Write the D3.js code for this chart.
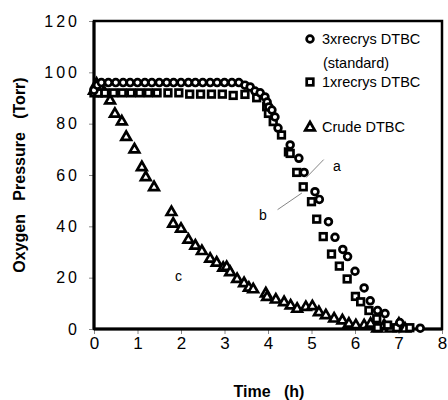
<!DOCTYPE html>
<html><head><meta charset="utf-8">
<script src="https://cdn.jsdelivr.net/npm/d3@7"></script>
<style>body{margin:0;background:#fff}svg{display:block}text{font-family:"Liberation Sans",Arial,sans-serif}</style>
</head><body><svg id="c" width="448" height="400"></svg>
<script>
// 3xrecrys DTBC (standard)
const circT = [0,0.08,0.17,0.33,0.5,0.67,0.83,1.0,1.17,1.33,1.5,1.67,1.83,2.0,2.17,2.33,2.5,2.67,2.83,3.0,3.17,3.33,3.47,3.59,3.70,3.82,3.93,3.98,4.02,4.09,4.16,4.23,4.51,4.71,4.83,5.08,5.18,5.39,5.54,5.72,5.83,6.0,6.21,6.35,6.52,6.69,7.03,7.5];
const circV = [93,95,96,96,96,96,96,96,96,96,96,96,96,96,96,96,96,96,96,96,96,96,95,94.3,92.7,92,90.4,88.4,86.5,85.3,82.6,78.3,71.7,66.5,61,53.5,50.5,41.8,35.7,31,28.2,22.5,16,11,7.2,6,2.5,0.3];
// 1xrecrys DTBC
const sqT = [0,0.1,0.25,0.45,0.65,0.85,1.05,1.25,1.45,1.7,1.95,2.2,2.45,2.7,2.95,3.2,3.47,3.74,3.97,4.01,4.12,4.31,4.47,4.51,4.66,4.81,5.0,5.12,5.27,5.46,5.64,5.82,6.01,6.13,6.32,6.5,6.52,6.75,6.96,7.26];
const sqV = [92,92,92,92,92,92,92,92,92,92,92,91.5,91.5,91.5,91.5,91,91.4,90.1,86.6,84,80.8,75.6,69,68.4,61,55.4,49.6,42.8,36,29.2,24.5,19.5,12.7,10.6,7.2,4,0.5,1.5,0.5,0.5];
// Crude DTBC
const triT = [0,0.06,0.15,0.25,0.37,0.48,0.64,0.74,0.93,1.1,1.19,1.38,1.78,1.82,2.0,2.17,2.33,2.48,2.67,2.82,2.97,3.05,3.13,3.29,3.45,3.56,3.66,3.95,3.98,4.18,4.37,4.52,4.67,4.87,5.02,5.17,5.33,5.52,5.71,5.86,6.02,6.21,6.36,6.51,6.67,6.82,7.01,7.15];
const triV = [93,95.7,94,92,89.2,84,81,75,70.1,63.2,59.3,55.4,45.7,41.2,39.2,34.9,32.6,30.5,27.5,26,24,24.3,22.3,19.6,18,16.2,15.6,14,12.6,11.6,10.6,9.3,8,8.7,9,6.7,5.5,4.2,3.5,2.2,1.6,1.6,2.2,0.3,1.6,0.3,2.2,0.3];
const xTicks = [0,1,2,3,4,5,6,7,8];
const yTicks = [0,20,40,60,80,100,120];
const legendLabels = [["3xrecrys DTBC","(standard)"],["1xrecrys DTBC"],["Crude DTBC"]];
const annotations = [{t:"a"},{t:"b"},{t:"c"}];

const svg = d3.select("#c");
const x = d3.scaleLinear().domain([0,8]).range([94,442]);
const y = d3.scaleLinear().domain([0,120]).range([329,21]);

// ticks
svg.append("g").attr("transform","translate(0,329)")
  .call(d3.axisBottom(x).tickValues(xTicks).tickSize(5).tickPadding(10).tickFormat(d3.format("d")))
  .call(g=>{g.select(".domain").remove();g.selectAll("line").attr("stroke","#888");
    g.selectAll("text").attr("font-size",17).attr("fill","#000").attr("dy","0.3em");});
svg.append("g").attr("transform","translate(94,0)")
  .call(d3.axisLeft(y).tickValues(yTicks).tickSize(5).tickPadding(9).tickFormat(d3.format("d")))
  .call(g=>{g.select(".domain").remove();g.selectAll("line").attr("stroke","#888");
    g.selectAll("text").attr("font-size",16).attr("fill","#000").attr("letter-spacing","3px");});

// frame
svg.append("rect").attr("x",x(0)).attr("y",y(120)).attr("width",x(8)-x(0)).attr("height",y(0)-y(120))
  .attr("fill","none").attr("stroke","#000").attr("stroke-width",2.5);
svg.append("line").attr("x1",x(0)).attr("x2",x(0)).attr("y1",y(120)).attr("y2",y(0)).attr("stroke","#000").attr("stroke-width",3);
svg.append("line").attr("x1",x(0)).attr("x2",x(8)).attr("y1",y(0)).attr("y2",y(0)).attr("stroke","#000").attr("stroke-width",3);

const tri = d3.symbol().type(d3.symbolTriangle).size(40);
const mk = {
  circle:(g,px,py)=>g.append("circle").attr("cx",px).attr("cy",py).attr("r",3.4),
  square:(g,px,py)=>g.append("rect").attr("x",px-3.3).attr("y",py-3.3).attr("width",6.6).attr("height",6.6),
  tri:(g,px,py)=>g.append("path").attr("d",tri()).attr("transform",`translate(${px},${py+0.5})`)
};
const layer = svg.append("g").attr("fill","#fff").attr("stroke","#000").attr("stroke-width",2.7).attr("stroke-linejoin","miter");
triT.forEach((t,i)=>mk.tri(layer,x(t),y(triV[i])));
sqT.forEach((t,i)=>mk.square(layer,x(t),y(sqV[i])));
circT.forEach((t,i)=>mk.circle(layer,x(t),y(circV[i])));

// legend
const lg = svg.append("g");
const lm = lg.append("g").attr("fill","#fff").attr("stroke","#000").attr("stroke-width",2.7);
mk.circle(lm,310,39); mk.square(lm,310,82); mk.tri(lm,310,127);
const lt = lg.append("g").attr("font-size",14.5).attr("fill","#000");
lt.append("text").attr("x",322).attr("y",44).text(legendLabels[0][0]);
lt.append("text").attr("x",323).attr("y",68).text(legendLabels[0][1]);
lt.append("text").attr("x",322).attr("y",87).text(legendLabels[1][0]);
lt.append("text").attr("x",322).attr("y",132).text(legendLabels[2][0]);

// annotations
const an = svg.append("g").attr("font-size",14).attr("fill","#000");
an.append("text").attr("x",333).attr("y",171).text(annotations[0].t);
an.append("text").attr("x",259).attr("y",220).text(annotations[1].t);
an.append("text").attr("x",175).attr("y",281).text(annotations[2].t);
svg.append("line").attr("x1",x(4.88)).attr("y1",y(59)).attr("x2",x(5.28)).attr("y2",y(66)).attr("stroke","#666").attr("stroke-width",0.8);
svg.append("line").attr("x1",x(4.22)).attr("y1",y(46.5)).attr("x2",x(4.78)).attr("y2",y(53)).attr("stroke","#666").attr("stroke-width",0.8);

// axis titles
svg.append("text").attr("x",269).attr("y",397).attr("text-anchor","middle").attr("font-size",16).attr("font-weight","bold")
  .style("white-space","pre").text("Time   (h)");
svg.append("text").attr("transform","translate(25,175) rotate(-90)").attr("text-anchor","middle").attr("font-size",16).attr("font-weight","bold")
  .style("white-space","pre").text("Oxygen   Pressure   (Torr)");
</script></body></html>
